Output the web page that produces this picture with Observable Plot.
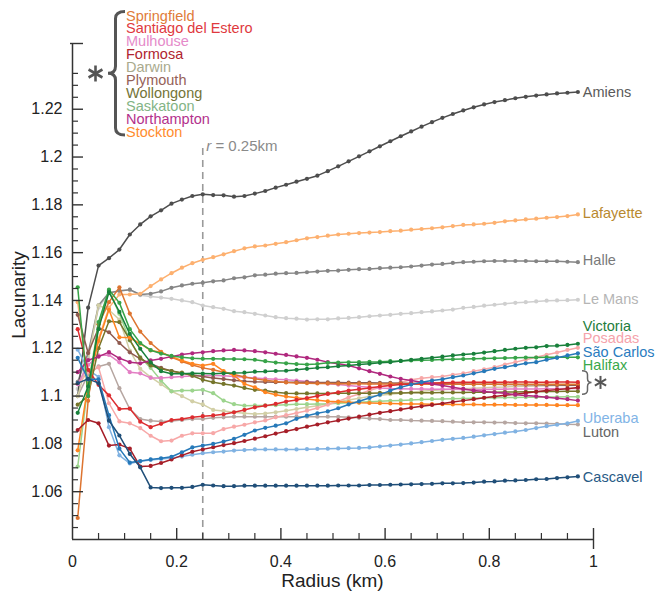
<!DOCTYPE html>
<html><head><meta charset="utf-8">
<script src="https://cdn.jsdelivr.net/npm/d3@7"></script>
<script src="https://cdn.jsdelivr.net/npm/@observablehq/plot@0.6"></script>
<style>html,body{margin:0;padding:0;background:#fff;}</style>
</head><body><div id="chart"></div>
<script>
const radius = [0.01,0.03,0.05,0.07,0.09,0.11,0.13,0.15,0.17,0.19,
 0.21,0.23,0.25,0.27,0.29,0.31,0.33,0.35,0.37,0.39,
 0.41,0.43,0.45,0.47,0.49,0.51,0.53,0.55,0.57,0.59,
 0.61,0.63,0.65,0.67,0.69,0.71,0.73,0.75,0.77,0.79,
 0.81,0.83,0.85,0.87,0.89,0.91,0.93,0.95,0.97];

const amiens = [1.1000,1.1370,1.1546,1.1577,1.1613,1.1676,1.1718,1.1752,1.1777,1.1805,
 1.1822,1.1837,1.1844,1.1841,1.1840,1.1834,1.1837,1.1847,1.1858,1.1872,
 1.1884,1.1897,1.1909,1.1922,1.1941,1.1961,1.1982,1.2003,1.2024,1.2045,
 1.2066,1.2087,1.2107,1.2127,1.2146,1.2164,1.2180,1.2195,1.2208,1.2220,
 1.2230,1.2238,1.2246,1.2252,1.2257,1.2262,1.2266,1.2269,1.2272];
const lafayette = [1.1393,1.1050,1.1240,1.1370,1.1425,1.1425,1.1428,1.1460,1.1488,1.1514,
 1.1537,1.1556,1.1570,1.1581,1.1593,1.1606,1.1618,1.1626,1.1630,1.1637,
 1.1644,1.1652,1.1660,1.1665,1.1671,1.1676,1.1679,1.1682,1.1684,1.1686,
 1.1690,1.1692,1.1696,1.1699,1.1702,1.1706,1.1711,1.1716,1.1718,1.1721,
 1.1725,1.1731,1.1735,1.1739,1.1742,1.1746,1.1749,1.1753,1.1760];
const halle = [1.1060,1.1180,1.1380,1.1432,1.1440,1.1445,1.1425,1.1428,1.1438,1.1453,
 1.1463,1.1470,1.1474,1.1480,1.1484,1.1493,1.1497,1.1505,1.1508,1.1512,
 1.1514,1.1515,1.1518,1.1521,1.1524,1.1525,1.1528,1.1531,1.1532,1.1535,
 1.1537,1.1539,1.1542,1.1546,1.1550,1.1553,1.1557,1.1560,1.1562,1.1564,
 1.1565,1.1565,1.1565,1.1565,1.1564,1.1564,1.1564,1.1562,1.1560];
const leMans = [1.1030,1.1160,1.1370,1.1430,1.1442,1.1445,1.1422,1.1417,1.1412,1.1407,
 1.1400,1.1393,1.1379,1.1372,1.1365,1.1355,1.1351,1.1344,1.1337,1.1330,
 1.1326,1.1324,1.1320,1.1321,1.1321,1.1325,1.1327,1.1330,1.1334,1.1337,
 1.1340,1.1344,1.1347,1.1351,1.1354,1.1358,1.1362,1.1369,1.1373,1.1378,
 1.1382,1.1386,1.1390,1.1393,1.1396,1.1399,1.1400,1.1401,1.1403];
const victoria = [1.0930,1.1040,1.1280,1.1435,1.1352,1.1260,1.1198,1.1141,1.1104,1.1093,
 1.1093,1.1095,1.1094,1.1093,1.1095,1.1097,1.1098,1.1102,1.1103,1.1105,
 1.1106,1.1110,1.1114,1.1118,1.1121,1.1125,1.1128,1.1132,1.1135,1.1139,
 1.1142,1.1147,1.1152,1.1156,1.1160,1.1165,1.1170,1.1174,1.1177,1.1182,
 1.1188,1.1193,1.1198,1.1202,1.1204,1.1209,1.1211,1.1214,1.1219];
const halifax = [1.1455,1.1000,1.1310,1.1445,1.1390,1.1280,1.1222,1.1192,1.1178,1.1168,
 1.1162,1.1158,1.1156,1.1156,1.1155,1.1155,1.1154,1.1152,1.1146,1.1140,
 1.1137,1.1134,1.1132,1.1134,1.1139,1.1140,1.1141,1.1142,1.1143,1.1144,
 1.1146,1.1147,1.1149,1.1150,1.1151,1.1153,1.1154,1.1155,1.1156,1.1157,
 1.1158,1.1159,1.1160,1.1161,1.1161,1.1162,1.1162,1.1162,1.1162];
const posadas = [1.1050,1.1100,1.1120,1.0970,1.0894,1.0886,1.0866,1.0834,1.0811,1.0814,
 1.0834,1.0844,1.0844,1.0845,1.0862,1.0872,1.0880,1.0890,1.0898,1.0911,
 1.0920,1.0929,1.0939,1.0950,1.0964,1.0978,1.0995,1.1009,1.1023,1.1037,
 1.1048,1.1058,1.1068,1.1075,1.1079,1.1082,1.1089,1.1095,1.1104,1.1112,
 1.1121,1.1132,1.1142,1.1152,1.1162,1.1173,1.1182,1.1193,1.1202];
const saoCarlos = [1.1160,1.1070,1.1070,1.0920,1.0780,1.0722,1.0728,1.0735,1.0740,1.0746,
 1.0765,1.0785,1.0793,1.0800,1.0810,1.0821,1.0838,1.0856,1.0867,1.0876,
 1.0886,1.0905,1.0918,1.0928,1.0936,1.0949,1.0965,1.0978,1.0992,1.1006,
 1.1023,1.1037,1.1048,1.1058,1.1065,1.1070,1.1079,1.1086,1.1095,1.1104,
 1.1114,1.1121,1.1129,1.1137,1.1142,1.1152,1.1160,1.1170,1.1179];
const uberaba = [1.1194,1.1110,1.1080,1.0870,1.0752,1.0718,1.0727,1.0733,1.0737,1.0741,
 1.0747,1.0755,1.0761,1.0765,1.0768,1.0772,1.0774,1.0777,1.0777,1.0777,
 1.0776,1.0777,1.0778,1.0779,1.0780,1.0781,1.0782,1.0783,1.0785,1.0789,
 1.0793,1.0797,1.0802,1.0807,1.0812,1.0817,1.0821,1.0825,1.0830,1.0836,
 1.0841,1.0847,1.0852,1.0858,1.0866,1.0874,1.0880,1.0886,1.0896];
const luton = [1.1000,1.1090,1.1124,1.1135,1.1033,1.0946,1.0904,1.0897,1.0894,1.0896,
 1.0900,1.0904,1.0904,1.0909,1.0911,1.0914,1.0914,1.0914,1.0914,1.0914,
 1.0914,1.0914,1.0914,1.0914,1.0914,1.0913,1.0911,1.0909,1.0906,1.0904,
 1.0900,1.0900,1.0898,1.0897,1.0896,1.0895,1.0893,1.0891,1.0890,1.0890,
 1.0889,1.0889,1.0887,1.0886,1.0886,1.0885,1.0884,1.0882,1.0881];
const cascavel = [1.1054,1.1072,1.1054,1.0897,1.0835,1.0758,1.0702,1.0618,1.0615,1.0616,
 1.0616,1.0620,1.0629,1.0626,1.0623,1.0623,1.0625,1.0625,1.0625,1.0625,
 1.0625,1.0625,1.0625,1.0625,1.0625,1.0626,1.0626,1.0626,1.0628,1.0628,
 1.0629,1.0630,1.0631,1.0632,1.0633,1.0635,1.0635,1.0636,1.0638,1.0642,
 1.0643,1.0646,1.0647,1.0649,1.0652,1.0653,1.0657,1.0660,1.0664];
const springfield = [1.0490,1.0980,1.1300,1.1393,1.1455,1.1345,1.1270,1.1222,1.1185,1.1162,
 1.1145,1.1130,1.1118,1.1110,1.1100,1.1090,1.1080,1.1072,1.1066,1.1061,
 1.1057,1.1055,1.1054,1.1053,1.1053,1.1052,1.1052,1.1052,1.1051,1.1051,
 1.1051,1.1051,1.1050,1.1050,1.1050,1.1050,1.1050,1.1050,1.1050,1.1049,
 1.1049,1.1049,1.1049,1.1049,1.1049,1.1049,1.1049,1.1049,1.1049];
const santiago = [1.1280,1.1110,1.1047,1.1003,1.0946,1.0948,1.0893,1.0870,1.0884,1.0900,
 1.0904,1.0911,1.0916,1.0919,1.0924,1.0932,1.0942,1.0953,1.0960,1.0967,
 1.0977,1.0984,1.0992,1.1000,1.1009,1.1016,1.1023,1.1029,1.1034,1.1040,
 1.1044,1.1048,1.1051,1.1053,1.1055,1.1056,1.1057,1.1058,1.1058,1.1058,
 1.1058,1.1058,1.1059,1.1059,1.1058,1.1058,1.1059,1.1059,1.1058];
const mulhouse = [1.1050,1.1130,1.1170,1.1172,1.1141,1.1100,1.1095,1.1076,1.1076,1.1079,
 1.1082,1.1084,1.1086,1.1086,1.1085,1.1082,1.1079,1.1076,1.1073,1.1070,
 1.1068,1.1065,1.1061,1.1057,1.1052,1.1048,1.1044,1.1040,1.1037,1.1034,
 1.1032,1.1031,1.1030,1.1030,1.1029,1.1029,1.1029,1.1028,1.1028,1.1028,
 1.1029,1.1029,1.1030,1.1030,1.1030,1.1031,1.1031,1.1032,1.1032];
const formosa = [1.0858,1.0900,1.0886,1.0793,1.0797,1.0780,1.0705,1.0708,1.0720,1.0735,
 1.0752,1.0767,1.0777,1.0786,1.0795,1.0803,1.0812,1.0822,1.0832,1.0843,
 1.0853,1.0862,1.0872,1.0881,1.0890,1.0898,1.0906,1.0914,1.0922,1.0930,
 1.0937,1.0944,1.0951,1.0957,1.0963,1.0969,1.0975,1.0981,1.0987,1.0993,
 1.0998,1.1003,1.1008,1.1013,1.1018,1.1023,1.1027,1.1031,1.1036];
const darwin = [1.1000,1.1150,1.1380,1.1360,1.1320,1.1190,1.1114,1.1079,1.1050,1.1020,
 1.1000,1.0978,1.0965,1.0942,1.0938,1.0932,1.0928,1.0925,1.0927,1.0932,
 1.0939,1.0946,1.0953,1.0960,1.0968,1.0976,1.0984,1.0991,1.0998,1.1003,
 1.1008,1.1012,1.1016,1.1020,1.1023,1.1026,1.1029,1.1031,1.1033,1.1035,
 1.1037,1.1038,1.1040,1.1041,1.1042,1.1043,1.1044,1.1044,1.1045];
const plymouth = [1.1340,1.1180,1.1285,1.1267,1.1222,1.1183,1.1156,1.1135,1.1118,1.1105,
 1.1095,1.1088,1.1082,1.1076,1.1071,1.1066,1.1062,1.1060,1.1059,1.1058,
 1.1058,1.1058,1.1058,1.1057,1.1057,1.1057,1.1056,1.1056,1.1056,1.1055,
 1.1055,1.1054,1.1054,1.1053,1.1053,1.1052,1.1051,1.1051,1.1050,1.1049,
 1.1049,1.1048,1.1048,1.1047,1.1047,1.1046,1.1046,1.1045,1.1045];
const wollongong = [1.0964,1.1000,1.1200,1.1313,1.1309,1.1235,1.1160,1.1128,1.1114,1.1105,
 1.1098,1.1085,1.1068,1.1058,1.1051,1.1044,1.1034,1.1026,1.1023,1.1016,
 1.1012,1.1011,1.1011,1.1011,1.1011,1.1012,1.1012,1.1012,1.1012,1.1013,
 1.1013,1.1013,1.1014,1.1014,1.1014,1.1015,1.1015,1.1015,1.1016,1.1016,
 1.1016,1.1017,1.1017,1.1018,1.1018,1.1019,1.1019,1.1020,1.1020];
const saskatoon = [1.0705,1.1050,1.1300,1.1442,1.1344,1.1232,1.1163,1.1118,1.1065,1.1020,
 1.1023,1.1023,1.1026,1.1012,1.0981,1.0966,1.0960,1.0961,1.0961,1.0962,
 1.0964,1.0966,1.0966,1.0967,1.0968,1.0970,1.0972,1.0974,1.0976,1.0978,
 1.0980,1.0982,1.0984,1.0986,1.0987,1.0988,1.0989,1.0990,1.0991,1.0992,
 1.0993,1.0994,1.0994,1.0995,1.0995,1.0996,1.0996,1.0997,1.0997];
const northampton = [1.1100,1.1150,1.1165,1.1184,1.1158,1.1142,1.1137,1.1149,1.1156,1.1165,
 1.1174,1.1179,1.1183,1.1188,1.1191,1.1193,1.1191,1.1188,1.1183,1.1177,
 1.1172,1.1166,1.1160,1.1152,1.1142,1.1135,1.1128,1.1116,1.1104,1.1093,
 1.1082,1.1072,1.1065,1.1058,1.1051,1.1044,1.1037,1.1030,1.1023,1.1019,
 1.1015,1.1012,1.1006,1.1002,1.0999,1.0995,1.0991,1.0987,1.0981];
const stockton = [1.0773,1.1050,1.1230,1.1361,1.1246,1.1244,1.1219,1.1191,1.1183,1.1165,
 1.1149,1.1135,1.1128,1.1135,1.1104,1.1086,1.1051,1.1037,1.1016,1.1006,
 1.0998,1.0993,1.0988,1.0983,1.0978,1.0976,1.0974,1.0972,1.0971,1.0970,
 1.0969,1.0968,1.0967,1.0967,1.0966,1.0966,1.0965,1.0965,1.0965,1.0964,
 1.0964,1.0964,1.0963,1.0963,1.0963,1.0963,1.0962,1.0962,1.0962];

// drawing order (back to front)
const cities = ["Le Mans","Halle","Lafayette","Amiens","Luton","Darwin","Saskatoon","Posadas","Uberaba",
  "Mulhouse","Plymouth","Wollongong","Springfield","Stockton","Santiago del Estero","Formosa",
  "Northampton","Halifax","Victoria","São Carlos","Cascavel"];
const cityValues = [leMans,halle,lafayette,amiens,luton,darwin,saskatoon,posadas,uberaba,
  mulhouse,plymouth,wollongong,springfield,stockton,santiago,formosa,
  northampton,halifax,victoria,saoCarlos,cascavel];
const cityColors = ["#cfcfcf","#858585","#fdb06f","#4d4d4d","#b6a6a1","#d2cfa6","#9cd48d","#f7a8a8","#80b2e2",
  "#e37fc4","#8f5a4f","#75752a","#dd7430","#ff8420","#dc2c2f","#a61e28",
  "#b0287e","#37a348","#18803b","#2679b9","#1f4e78"];

// right-hand labels
const labelCities = ["Amiens","Lafayette","Halle","Le Mans","Victoria","Posadas","São Carlos","Halifax","Uberaba","Luton","Cascavel"];
const labelLacunarity = [1.2272,1.1763,1.1568,1.1403,1.1292,1.1240,1.1184,1.1128,1.0905,1.0850,1.0661];
const labelColors = ["#5a5a5a","#b8892f","#7a7a7a","#b5b5b5","#1e7d3c","#f5a3ab","#2a7cc0","#3aa84a","#82b4e6","#666666","#285a85"];
const starLabelRange = [1.1104, 1.1006];

// starred group legend
const starGroup = ["Springfield","Santiago del Estero","Mulhouse","Formosa","Darwin","Plymouth","Wollongong","Saskatoon","Northampton","Stockton"];
const starColors = ["#e07b39","#e0393e","#e58ac9","#b0232f","#a9aa8d","#956158","#747437","#83b486","#b3318c","#ff8c2e"];

const yLabelTicks = [1.06,1.08,1.1,1.12,1.14,1.16,1.18,1.2,1.22];
const yMinorTicks = [1.045,1.05,1.055,1.065,1.07,1.075,1.085,1.09,1.095,1.105,1.11,1.115,1.125,1.13,1.135,
  1.145,1.15,1.155,1.165,1.17,1.175,1.185,1.19,1.195,1.205,1.21,1.215,1.225,1.23,1.235];
const xLabelTicks = [0,0.2,0.4,0.6,0.8,1];
const xMajorTicks = [0.2,0.4,0.6,0.8];
const xMinorTicks = [0.05,0.1,0.15,0.25,0.3,0.35,0.45,0.5,0.55,0.65,0.7,0.75,0.85,0.9,0.95];
const markedRadius = 0.25;

const FONT = "'Liberation Sans', Arial, Helvetica, sans-serif";
const W = 655, H = 593, ML = 72, MR = 62, MT = 43, MB = 54;
const FW = W - ML - MR, FH = H - MT - MB;
const AX = "#333";

const rows = [];
cities.forEach((c, k) => cityValues[k].forEach((v, i) => rows.push({city: c, r: radius[i], L: v})));

const seriesMarks = [];
cities.forEach((c, k) => {
  const d = rows.filter(r => r.city === c);
  seriesMarks.push(Plot.line(d, {x: "r", y: "L", stroke: cityColors[k], strokeWidth: 1.5}));
  seriesMarks.push(Plot.dot(d, {x: "r", y: "L", r: 2.1, fill: cityColors[k], stroke: "none"}));
});

const chart = Plot.plot({
  width: W, height: H,
  marginLeft: ML, marginRight: MR, marginTop: MT, marginBottom: MB,
  x: {domain: [0, 1]},
  y: {domain: [1.04, 1.2475]},
  style: {fontFamily: FONT, background: "#fff", color: AX},
  marks: [
    Plot.ruleX([markedRadius], {y1: 1.04, y2: 1.2057, stroke: "#9a9a9a", strokeWidth: 1.6, strokeDasharray: "7,5"}),
    ...seriesMarks,
    Plot.ruleX([0], {stroke: AX, strokeWidth: 1.5}),
    Plot.ruleY([1.04], {stroke: AX, strokeWidth: 1.5}),
    Plot.tickY(yLabelTicks, {y: d => d, insetRight: FW - 11, stroke: AX, strokeWidth: 1.4}),
    Plot.tickY(yMinorTicks, {y: d => d, insetRight: FW - 6, stroke: AX, strokeWidth: 1.2}),
    Plot.tickY([1.2475], {y: d => d, insetRight: FW - 11, insetLeft: -2, stroke: AX, strokeWidth: 1.4}),
    Plot.tickX(xMajorTicks, {x: d => d, insetTop: FH - 11, stroke: AX, strokeWidth: 1.4}),
    Plot.tickX(xMinorTicks, {x: d => d, insetTop: FH - 6, stroke: AX, strokeWidth: 1.2}),
    Plot.tickX([1], {x: d => d, insetTop: FH - 11, insetBottom: -10, stroke: AX, strokeWidth: 1.4}),
    Plot.axisY(yLabelTicks, {tickSize: 0, tickPadding: 10, fontSize: 16, label: null, tickFormat: d => String(+d.toFixed(2)), fill: "#222"}),
    Plot.axisX(xLabelTicks, {tickSize: 0, tickPadding: 16, fontSize: 16, label: null, tickFormat: d => String(d), fill: "#222"}),
    ...labelCities.map((name, i) => Plot.text([name], {
      x: () => radius[radius.length - 1], y: () => labelLacunarity[i], text: d => d,
      textAnchor: "start", dx: 5, fontSize: 14.5, fill: labelColors[i], fontFamily: FONT
    }))
  ]
});
document.getElementById("chart").append(chart);

const sx = chart.scale("x"), sy = chart.scale("y");
const svg = d3.select(chart);

function bracePath(xe, xs, xt, y1, y2, r) {
  const ym = (y1 + y2) / 2;
  return `M${xe},${y1} Q${xs},${y1} ${xs},${y1 + r} L${xs},${ym - r} Q${xs},${ym} ${xt},${ym} ` +
         `Q${xs},${ym} ${xs},${ym + r} L${xs},${y2 - r} Q${xs},${y2} ${xe},${y2}`;
}
function asterisk(g, cx, cy, r, w, color) {
  [90, 30, -30].forEach(deg => {
    const t = deg * Math.PI / 180;
    g.append("line").attr("x1", cx - r * Math.cos(t)).attr("y1", cy - r * Math.sin(t))
      .attr("x2", cx + r * Math.cos(t)).attr("y2", cy + r * Math.sin(t))
      .attr("stroke", color).attr("stroke-width", w).attr("stroke-linecap", "butt");
  });
}

// top-left legend for starred group
const lg = svg.append("g").attr("font-family", FONT).attr("font-size", 14.5).attr("text-anchor", "start");
starGroup.forEach((name, i) => {
  lg.append("text").attr("x", 126).attr("y", 15.3 + i * 12.95).attr("dy", "0.36em")
    .attr("text-anchor", "start").attr("fill", starColors[i]).text(name);
});
lg.append("path").attr("d", bracePath(125, 115.5, 108, 11.5, 135, 7))
  .attr("fill", "none").attr("stroke", "#555").attr("stroke-width", 3);
asterisk(lg, 95.5, 73.5, 8, 2.6, "#555");

// right bracket for the starred group
const ry1 = sy.apply(starLabelRange[0]), ry2 = sy.apply(starLabelRange[1]);
svg.append("path").attr("d", bracePath(582, 587.5, 591.5, ry1, ry2, 4))
  .attr("fill", "none").attr("stroke", "#666").attr("stroke-width", 1.5);
asterisk(svg, 600.5, (ry1 + ry2) / 2, 6.5, 2, "#555");

// r = 0.25km annotation
const ann = svg.append("text").attr("x", sx.apply(markedRadius) + 4).attr("y", sy.apply(1.2045)).attr("dy", "0.36em")
  .attr("text-anchor", "start").attr("font-family", FONT).attr("font-size", 15).attr("fill", "#8a8a8a");
ann.append("tspan").attr("font-style", "italic").text("r");
ann.append("tspan").text(" = 0.25km");

// axis titles
svg.append("text").attr("transform", `translate(18,${(MT + H - MB) / 2 + 4}) rotate(-90)`)
  .attr("text-anchor", "middle").attr("dy", "0.36em").attr("font-family", FONT).attr("font-size", 19)
  .attr("fill", "#222").text("Lacunarity");
svg.append("text").attr("x", ML + FW / 2).attr("y", 580).attr("dy", "0.36em")
  .attr("text-anchor", "middle").attr("font-family", FONT).attr("font-size", 19)
  .attr("fill", "#222").text("Radius (km)");
</script></body></html>
